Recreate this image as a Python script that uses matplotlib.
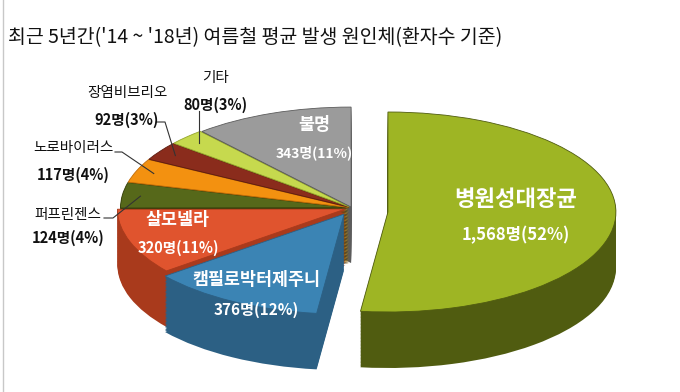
import numpy as np
import matplotlib.pyplot as plt
from matplotlib.lines import Line2D

plt.rcParams['font.family'] = ['Noto Sans CJK KR', 'DejaVu Sans']

# data (clockwise from 12 o'clock)
names = ['병원성대장균', '캠필로박터제주니', '살모넬라', '퍼프린젠스',
         '노로바이러스', '장염비브리오', '기타', '불명']
counts = [1568, 376, 320, 124, 117, 92, 80, 343]
pcts = [52, 12, 11, 4, 4, 3, 3, 11]

top_colors = ['#9eb524', '#3b84b4', '#e0542e', '#56681a',
              '#f39110', '#8a2c1c', '#c6d94e', '#9b9b9b']
side_colors = ['#505c10', '#2c6084', '#a93a1c', '#343e0a',
               '#c06c08', '#5e1c10', '#95a62c', '#5c5c5c']

W, H = 680, 392
CX, CY, RX, RY = 369, 212, 228, 100   # pixel centre / radii of the ellipse
DEPTH = 0.56                          # side height in ellipse-y units


def to_data(x, y):
    return (x - CX) / RX, (CY - y) / RY


fig = plt.figure(figsize=(W / 100, H / 100), dpi=100)
ax = fig.add_axes([0, 0, 1, 1])

# green slice pulled right, the rest pulled left
in_a = [i == 0 for i in range(len(counts))]
groups = [
    ((0.083, 0.0), in_a, [0] * 8),
    ((-0.075, 0.04), [not v for v in in_a], [0, 0.07, 0.03, 0.015, 0.015, 0.015, 0.015, 0.01]),
]

tops = {}
for g, (center, mask, expl) in enumerate(groups):
    sides = [c if m else 'none' for c, m in zip(side_colors, mask)]
    for k in np.linspace(DEPTH, 0.01, 40):
        ax.pie(counts, colors=sides, startangle=90, counterclock=False,
               center=(center[0], center[1] - k), explode=expl,
               wedgeprops=dict(linewidth=0))
for g, (center, mask, expl) in enumerate(groups):
    cols = [c if m else 'none' for c, m in zip(top_colors, mask)]
    wedges, _ = ax.pie(counts, colors=cols, startangle=90, counterclock=False,
                       center=center, explode=expl, wedgeprops=dict(linewidth=0))
    for i, w in enumerate(wedges):
        if mask[i]:
            w.set_edgecolor(side_colors[i])
            w.set_linewidth(0.6)
            tops[i] = w

ax.set_xlim(to_data(0, 0)[0], to_data(W, 0)[0])
ax.set_ylim(to_data(0, H)[1], to_data(0, 0)[1])
ax.set_aspect('auto')
ax.axis('off')


def px_text(x, y, s, **kw):
    fig.text(x / W, 1 - y / H, s, ha='center', va='center', **kw)


def tip(i, r=0.92):
    w = tops[i]
    mid = np.deg2rad((w.theta1 + w.theta2) / 2)
    return w.center[0] + r * w.r * np.cos(mid), w.center[1] + r * w.r * np.sin(mid)


fig.text(8 / W, 1 - 38 / H, "최근 5년간('14 ~ '18년) 여름철 평균 발생 원인체(환자수 기준)",
         ha='left', va='center', fontsize=14, color='#111111')
fig.add_artist(Line2D([3 / W, 3 / W], [0, 1], color='#c8c8c8', lw=1))

# labels inside slices
inside = {0: (516, 200, 235, 16, 12), 1: (256, 280, 310, 12.5, 11),
          2: (178, 220, 248, 12.5, 10.5), 7: (314, 125, 153, 12.5, 10)}
for i, (x, y1, y2, f1, f2) in inside.items():
    px_text(x, y1, names[i], color='white', fontsize=f1, fontweight='bold')
    px_text(x, y2, f'{counts[i]:,}명({pcts[i]}%)', color='white', fontsize=f2,
            fontweight='bold')

# labels outside with leader lines
outside = {6: (215, 78, 105), 5: (127, 93, 120), 4: (73, 148, 175), 3: (68, 215, 238)}
for i, (x, y1, y2) in outside.items():
    px_text(x, y1, names[i], color='#111111', fontsize=10.5)
    px_text(x, y2, f'{counts[i]}명({pcts[i]}%)', color='#111111', fontsize=10.5,
            fontweight='bold')

leaders = {6: [(None, 111)], 5: [(157, 122), (165, 122)],
           4: [(115, 152), (122, 152)], 3: [(104, 218), (113, 218)]}
for i, pts in leaders.items():
    tx, ty = tip(i)
    xs, ys = [], []
    for x, y in pts:
        if x is None:
            dx, dy = tx, to_data(0, y)[1]
        else:
            dx, dy = to_data(x, y)
        xs.append(dx)
        ys.append(dy)
    xs.append(tx)
    ys.append(ty)
    ax.plot(xs, ys, color='#333333', lw=0.8)

fig.savefig('out.png', dpi=100)
